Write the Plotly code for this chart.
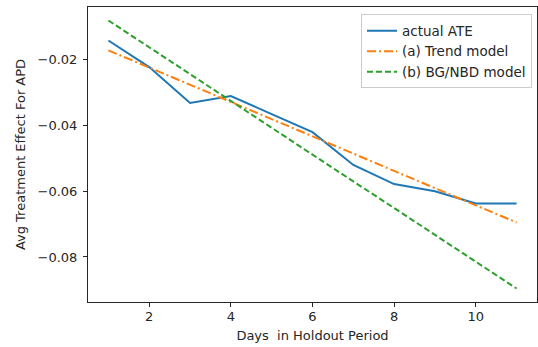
import plotly.graph_objects as go

days = [1, 2, 3, 4, 5, 6, 7, 8, 9, 10, 11]
actual_ate = [-0.0141, -0.0222, -0.0331, -0.0310, -0.0365, -0.0420, -0.0520, -0.0578, -0.0600, -0.0637, -0.0637]
trend_model = [-0.0171, -0.0223, -0.0276, -0.0328, -0.0381, -0.0433, -0.0485, -0.0538, -0.0590, -0.0643, -0.0695]
bgnbd_model = [-0.0080, -0.0162, -0.0243, -0.0325, -0.0406, -0.0488, -0.0570, -0.0651, -0.0733, -0.0814, -0.0896]

font = dict(family="DejaVu Sans", size=13, color="#262626")

fig = go.Figure()
fig.add_trace(go.Scatter(x=days, y=actual_ate, mode="lines", name="actual ATE",
                         line=dict(color="#1f77b4", width=2)))
fig.add_trace(go.Scatter(x=days, y=trend_model, mode="lines", name="(a) Trend model",
                         line=dict(color="#ff7f0e", width=2, dash="9px,3px,2px,3px")))
fig.add_trace(go.Scatter(x=days, y=bgnbd_model, mode="lines", name="(b) BG/NBD model",
                         line=dict(color="#2ca02c", width=2, dash="6px,3px")))

fig.update_layout(
    width=538, height=347,
    margin=dict(l=88, r=1, t=7, b=45),
    paper_bgcolor="white", plot_bgcolor="white",
    font=font,
    legend=dict(x=0.608, y=0.975, xanchor="left", yanchor="top",
                bgcolor="rgba(255,255,255,0.8)", bordercolor="#cccccc", borderwidth=1,
                font=dict(family="DejaVu Sans", size=13.5, color="#262626"),
                tracegroupgap=0, itemwidth=30),
    showlegend=True,
)
fig.update_xaxes(range=[0.5, 11.5], tickvals=[2, 4, 6, 8, 10], ticks="outside", ticklen=4,
                 tickcolor="#262626", showline=True, linecolor="#262626", linewidth=1, mirror=True,
                 showgrid=False, zeroline=False, automargin=False, ticklabelstandoff=-2,
                 title=dict(text="Days\u00a0\u00a0in Holdout Period", standoff=8,
                            font=dict(family="DejaVu Sans", size=13, color="#262626")))
fig.update_yaxes(range=[-0.0937, -0.0039], tickvals=[-0.08, -0.06, -0.04, -0.02],
                 tickformat=".2f", ticks="outside", ticklen=4, ticklabelstandoff=3,
                 tickcolor="#262626", showline=True, linecolor="#262626", linewidth=1, mirror=True,
                 showgrid=False, zeroline=False, automargin=False,
                 title=dict(text="Avg Treatment Effect For APD", standoff=9,
                            font=dict(family="DejaVu Sans", size=13, color="#262626")))

fig.write_html("out.html", config={"displayModeBar": False},
               post_script="document.body.style.margin='0';document.body.style.overflow='hidden';")
